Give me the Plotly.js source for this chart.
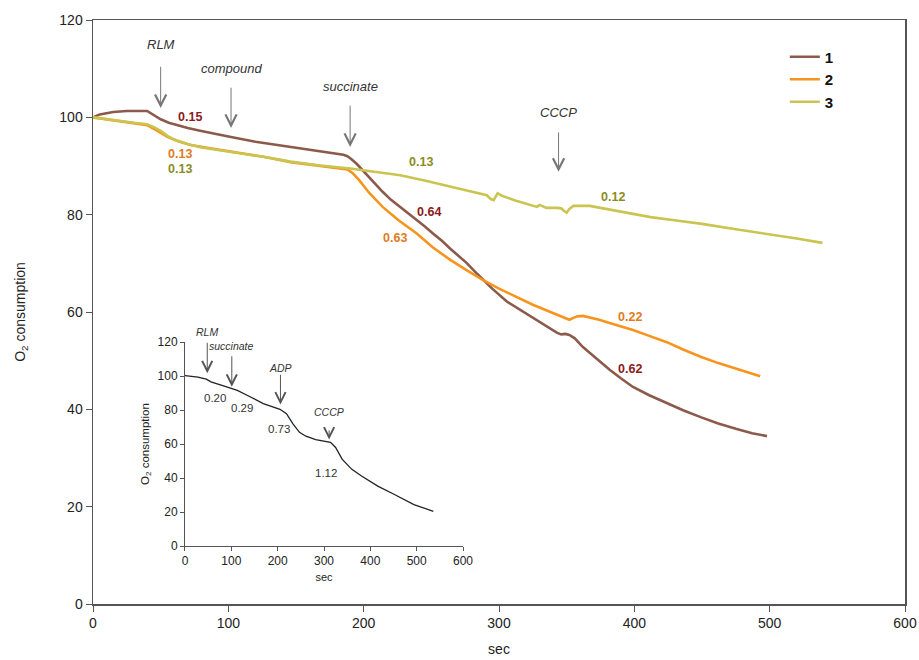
<!DOCTYPE html>
<html><head><meta charset="utf-8">
<script src="https://cdn.plot.ly/plotly-3.0.1.min.js"></script>
<style>html,body{margin:0;padding:0;background:#fff}#chart{width:919px;height:660px}</style>
</head><body><div id="chart"></div>
<script>
// Main chart series
const x1 = [0,5,15,25,40,45,50,56,62,70,80,90,101,120,146,165,185,188,191,195,200,207,214,220,227,233,239,245,251,258,264,270,276,284,295,306,317,328,336,343,346,349,352,356,362,372,382,390,399,411,424,436,449,462,475,487,498];
const y1 = [100,100.6,101.1,101.3,101.3,100.4,99.6,98.9,98.4,97.8,97.2,96.6,96.0,95.0,93.9,93.1,92.3,92.0,91.4,90.4,88.9,86.7,84.7,83.1,81.6,80.3,79.0,77.6,76.2,74.6,73.0,71.6,70.1,67.8,64.8,62.1,60.2,58.4,57.0,55.7,55.4,55.5,55.3,54.6,52.8,50.4,48.1,46.4,44.6,42.9,41.3,39.8,38.4,37.1,36.0,35.1,34.5];
const x2 = [0,20,40,47,55,63,72,90,109,128,146,168,188,192,197,204,214,226,239,251,264,276,288,300,313,325,338,345,352,355,358,362,374,386,399,411,424,436,449,462,475,493];
const y2 = [100,99.2,98.4,97.3,96.0,95.1,94.3,93.5,92.7,91.8,90.8,90.0,89.3,88.5,87.0,84.5,81.6,78.8,76.2,73.3,70.7,68.6,66.6,64.8,63.1,61.5,60.0,59.2,58.4,58.8,59.1,59.2,58.4,57.4,56.3,55.1,53.8,52.3,50.8,49.5,48.3,46.8];
const x3 = [0,10,20,30,40,45,50,55,60,70,80,95,109,128,146,168,190,208,227,245,264,278,291,294,296,299,302,312,323,328,330,335,343,346,348,350,352,355,367,390,412,431,450,475,500,520,539];
const y3 = [100,99.6,99.2,98.9,98.6,98.0,97.2,96.2,95.4,94.5,93.8,93.2,92.7,91.8,90.9,90.1,89.5,88.8,88.1,87.0,85.7,84.8,84.0,83.2,83.0,84.4,83.9,82.9,82.0,81.6,82.0,81.4,81.4,81.3,80.8,80.4,81.2,81.8,81.8,80.7,79.5,78.8,78.1,77.0,76.0,75.1,74.2];
const seriesNames = ["1","2","3"];
// Inset series
const xi = [0,28,46,56,78,99,113,134,169,205,219,233,247,261,282,314,325,339,360,381,416,452,494,536];
const yi = [100.2,99.4,98.2,96.6,94.7,92.7,91.5,88.7,83.8,80.4,77.8,71.9,66.9,64.6,62.6,61.0,58.0,51.1,45.1,41.2,35.2,30.3,24.4,20.4];
// Rate labels (main)
const rateText = ["0.15","0.13","0.13","0.13","0.64","0.63","0.12","0.22","0.62"];
const rateX = [72,64,64,242,248,223,384,397,397];
const rateY = [100.1,92.5,89.4,90.8,80.5,75.2,83.6,59.0,48.3];
const rateSeries = [0,1,2,2,0,1,2,1,0];
// Additions (main): label, x, label y, arrow tail y, arrow head y
const addText = ["RLM","compound","succinate","CCCP"];
const addX = [50,102,190,344];
const addLabelY = [114.9,110.1,106.4,100.9];
const addTailY = [110.7,106.4,102.7,97.2];
const addHeadY = [101.9,97.8,93.9,88.8];
// Inset labels
const inRateText = ["0.20","0.29","0.73","1.12"];
const inRateX = [64,124,203,305];
const inRateY = [87.1,81.2,68.9,43.2];
const inAddText = ["RLM","succinate","ADP","CCCP"];
const inAddX = [48,101,206,311];
const inAddLabelY = [126,117.4,104.5,73.9];
const inAddTailY = [120.4,112.5,101.6,68.9];
const inAddHeadY = [101.6,93.7,83.2,62.6];

const lineColors = ["#8c5a4b","#f7941e","#c9c550"];
const labelColors = ["#8b1a1a","#e07b20","#8c8c1e"];
const FONT = "Liberation Sans, Arial, sans-serif";

const traces = [
  {x:x1,y:y1,name:seriesNames[0],type:"scatter",mode:"lines",line:{color:lineColors[0],width:2.6}},
  {x:x2,y:y2,name:seriesNames[1],type:"scatter",mode:"lines",line:{color:lineColors[1],width:2.6}},
  {x:x3,y:y3,name:seriesNames[2],type:"scatter",mode:"lines",line:{color:lineColors[2],width:2.6}},
  {x:xi,y:yi,xaxis:"x2",yaxis:"y2",type:"scatter",mode:"lines",line:{color:"#222",width:1.3},showlegend:false}
];

const inTop = 0.4486, inBot = 0.0993;
const ann = [];
rateText.forEach((t,i)=>ann.push({x:rateX[i],y:rateY[i],xref:"x",yref:"y",text:t,showarrow:false,
  font:{family:FONT,size:12.5,color:labelColors[rateSeries[i]],weight:"bold"}}));
addText.forEach((t,i)=>{
  ann.push({x:addX[i],y:addLabelY[i],xref:"x",yref:"y",text:"<i>"+t+"</i>",showarrow:false,font:{family:FONT,size:13,color:"#333"}});
  ann.push({x:addX[i],y:addHeadY[i],ax:addX[i],ay:addTailY[i],xref:"x",yref:"y",axref:"x",ayref:"y",text:"",showarrow:true,arrowhead:5,arrowsize:2.2,arrowwidth:1,arrowcolor:"#777"});
});
inRateText.forEach((t,i)=>ann.push({x:inRateX[i],y:inRateY[i],xref:"x2",yref:"y2",text:t,showarrow:false,font:{family:FONT,size:11.5,color:"#333"}}));
inAddText.forEach((t,i)=>{
  ann.push({x:inAddX[i],y:inBot+(inTop-inBot)*inAddLabelY[i]/120,xref:"x2",yref:"paper",text:"<i>"+t+"</i>",showarrow:false,font:{family:FONT,size:10.5,color:"#333"}});
  ann.push({x:inAddX[i],y:inAddHeadY[i],ax:inAddX[i],ay:inAddTailY[i],xref:"x2",yref:"y2",axref:"x2",ayref:"y2",text:"",showarrow:true,arrowhead:5,arrowsize:2,arrowwidth:1,arrowcolor:"#555"});
});

const layout = {
  width:919,height:660,
  margin:{l:93,r:14,t:20,b:56},
  paper_bgcolor:"#fff",plot_bgcolor:"#fff",
  font:{family:FONT,color:"#222"},
  showlegend:true,
  legend:{x:0.852,y:0.965,xanchor:"left",yanchor:"top",bgcolor:"rgba(0,0,0,0)",font:{family:FONT,size:15,color:"#111",weight:"bold"},tracegroupgap:0},
  xaxis:{domain:[0,1],range:[0,600],tickvals:[0,100,200,300,400,500,600],showgrid:false,zeroline:false,showline:true,mirror:true,linecolor:"#555",linewidth:1.5,ticks:"outside",ticklen:6,tickcolor:"#555",tickfont:{size:14,color:"#222"},
    title:{text:"sec",font:{size:14,color:"#222"},standoff:14}},
  yaxis:{domain:[0,1],range:[0,120],tickvals:[0,20,40,60,80,100,120],showgrid:false,zeroline:false,showline:true,mirror:true,linecolor:"#555",linewidth:1.5,ticks:"outside",ticklen:6,tickcolor:"#555",tickfont:{size:14,color:"#222"},
    title:{text:"O<sub>2</sub> consumption",font:{size:14,color:"#222"},standoff:30}},
  xaxis2:{domain:[0.1133,0.4557],anchor:"y2",range:[0,600],tickvals:[0,100,200,300,400,500,600],showgrid:false,zeroline:false,showline:true,linecolor:"#555",linewidth:1,ticks:"outside",ticklen:4,tickcolor:"#555",tickfont:{size:12,color:"#222"},
    title:{text:"sec",font:{size:11,color:"#222"},standoff:5}},
  yaxis2:{domain:[inBot,inTop],anchor:"x2",range:[0,120],tickvals:[0,20,40,60,80,100,120],showgrid:false,zeroline:false,showline:true,linecolor:"#555",linewidth:1,ticks:"outside",ticklen:4,tickcolor:"#555",tickfont:{size:12,color:"#222"},
    title:{text:"O<sub>2</sub> consumption",font:{size:11.5,color:"#222"},standoff:5}},
  annotations:ann
};
Plotly.newPlot("chart",traces,layout,{displayModeBar:false,staticPlot:true});
</script></body></html>
